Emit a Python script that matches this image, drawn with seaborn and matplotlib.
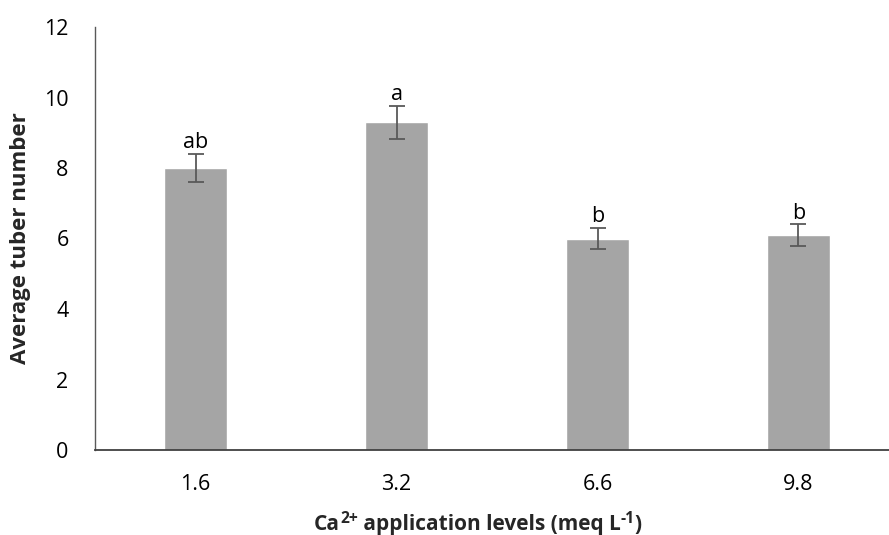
import matplotlib
matplotlib.use("Agg")
import matplotlib.pyplot as plt
import numpy as np
import pandas as pd
import seaborn as sns

# 数据
levels = ["1.6", "3.2", "6.6", "9.8"]
tuber_mean = [8.0, 9.3, 6.0, 6.1]
tuber_err = [0.41, 0.47, 0.30, 0.30]
letters = ["ab", "a", "b", "b"]

sns.set_theme(style="white")
plt.rcParams['font.family'] = ['Open Sans', 'DejaVu Sans']

df = pd.DataFrame({"level": levels, "mean": tuber_mean, "err": tuber_err})

W, H = 889, 535
fig = plt.figure(figsize=(W / 100, H / 100), dpi=100)
ax = fig.add_axes([95 / W, 85 / H, 804 / W, 423 / H])

sns.barplot(data=df, x="level", y="mean", color="#A5A5A5", saturation=1,
            width=0.31, errorbar=None, ax=ax)
xs = np.arange(len(levels))
ax.errorbar(xs, df["mean"], yerr=df["err"], fmt="none", ecolor="#595959",
            elinewidth=1.3, capsize=6, capthick=1.3)

# 显著性字母
for x, m, e, t in zip(xs, tuber_mean, tuber_err, letters):
    ax.annotate(t, (x, m + e), xytext=(0, 0.5), textcoords="offset points",
                ha="center", va="bottom", fontsize=15.5, color="black")

ax.set_ylim(0, 12)
ax.set_yticks(range(0, 13, 2))
ax.set_xlim(-0.5, 3.5)
ax.set_xlabel("")
ax.tick_params(axis="y", length=0, labelsize=15.5, colors="black", pad=19)
ax.tick_params(axis="x", length=0, labelsize=15.5, colors="black", pad=17)

for s in ["top", "right"]:
    ax.spines[s].set_visible(False)
ax.spines["left"].set_color("#595959")
ax.spines["bottom"].set_color("#404040")
ax.spines["left"].set_linewidth(1.0)
ax.spines["bottom"].set_linewidth(1.3)

ax.set_ylabel("Average tuber number", fontsize=16, fontweight="bold")
ax.yaxis.set_label_coords(-64 / 804, 0.5)

# x轴标题（上标分段绘制）
pieces = [("Ca", False), ("2+", True), (" application levels (meq L", False),
          ("-1", True), (")", False)]
renderer = fig.canvas.get_renderer()
size = 15
objs = []
for txt, sup in pieces:
    t = fig.text(0, 0, txt, fontsize=size * 0.75 if sup else size,
                 fontweight="bold", ha="left", va="baseline")
    objs.append((t, sup))
widths = [t.get_window_extent(renderer).width for t, _ in objs]
x0 = 478 - sum(widths) / 2
base = H - 530
for (t, sup), w in zip(objs, widths):
    t.set_position((x0 / W, (base + (7 if sup else 0)) / H))
    x0 += w

fig.savefig("out.png", dpi=100)
